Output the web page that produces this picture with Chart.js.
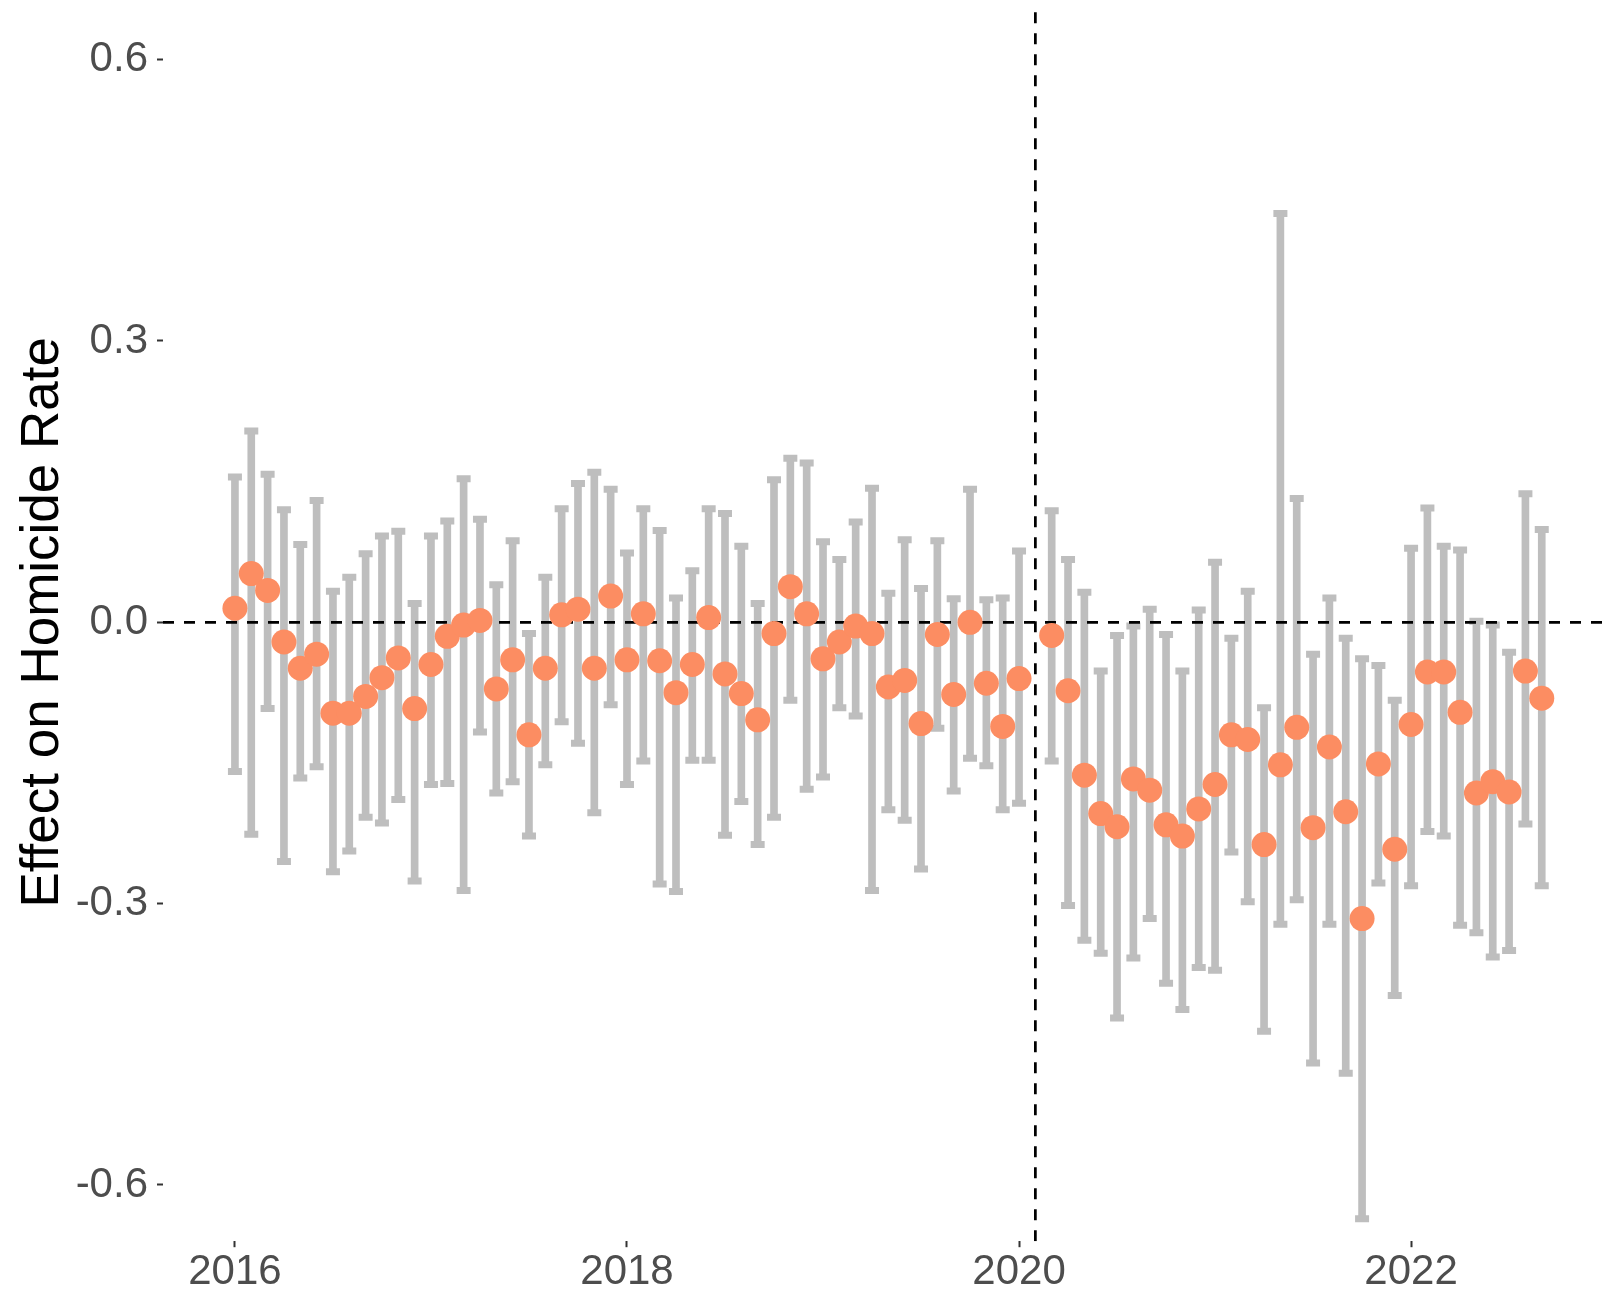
<!DOCTYPE html>
<html>
<head>
<meta charset="utf-8">
<title>Effect on Homicide Rate</title>
<script src="https://cdn.jsdelivr.net/npm/chart.js@4.4.1/dist/chart.umd.min.js"></script>
<style>
    html, body { margin: 0; padding: 0; background: #ffffff; }
    #wrap { width: 1602px; height: 1293px; }
</style>
</head>
<body>
<div id="wrap"><canvas id="myChart" width="1602" height="1293"></canvas></div>
<script>
// Months (first of month), Feb 2020 is missing in the original
const months = [
    '2016-01','2016-02','2016-03','2016-04','2016-05','2016-06','2016-07','2016-08','2016-09','2016-10','2016-11','2016-12',
    '2017-01','2017-02','2017-03','2017-04','2017-05','2017-06','2017-07','2017-08','2017-09','2017-10','2017-11','2017-12',
    '2018-01','2018-02','2018-03','2018-04','2018-05','2018-06','2018-07','2018-08','2018-09','2018-10','2018-11','2018-12',
    '2019-01','2019-02','2019-03','2019-04','2019-05','2019-06','2019-07','2019-08','2019-09','2019-10','2019-11','2019-12',
    '2020-01',
    '2020-03','2020-04','2020-05','2020-06','2020-07','2020-08','2020-09','2020-10','2020-11','2020-12',
    '2021-01','2021-02','2021-03','2021-04','2021-05','2021-06','2021-07','2021-08','2021-09','2021-10','2021-11','2021-12',
    '2022-01','2022-02','2022-03','2022-04','2022-05','2022-06','2022-07','2022-08','2022-09'
];

// Point estimates
const estimate = [
    0.015, 0.052, 0.034, -0.021, -0.049, -0.034, -0.097, -0.097, -0.079, -0.059, -0.038, -0.092,
    -0.045, -0.015, -0.003, 0.002, -0.071, -0.040, -0.120, -0.049, 0.008, 0.014, -0.049, 0.028,
    -0.040, 0.009, -0.041, -0.075, -0.045, 0.005, -0.055, -0.076, -0.104, -0.012, 0.038, 0.009,
    -0.039, -0.021, -0.004, -0.012, -0.069, -0.062, -0.108, -0.013, -0.077, 0.000, -0.065, -0.111,
    -0.060,
    -0.014, -0.073, -0.163, -0.204, -0.218, -0.167, -0.179, -0.216, -0.228, -0.199,
    -0.173, -0.120, -0.125, -0.237, -0.152, -0.112, -0.219, -0.133, -0.202, -0.316, -0.151, -0.242,
    -0.109, -0.053, -0.053, -0.096, -0.182, -0.170, -0.181, -0.052, -0.081
];

// Upper bound of the interval
const upper = [
    0.155, 0.204, 0.158, 0.120, 0.083, 0.130, 0.033, 0.048, 0.073, 0.092, 0.097, 0.020,
    0.092, 0.108, 0.153, 0.110, 0.040, 0.087, -0.012, 0.048, 0.121, 0.148, 0.160, 0.142,
    0.074, 0.121, 0.098, 0.026, 0.055, 0.121, 0.116, 0.081, 0.020, 0.152, 0.175, 0.170,
    0.086, 0.067, 0.107, 0.143, 0.031, 0.088, 0.036, 0.087, 0.025, 0.142, 0.024, 0.026,
    0.076,
    0.119, 0.067, 0.032, -0.052, -0.014, -0.004, 0.014, -0.013, -0.052, 0.013,
    0.064, -0.017, 0.033, -0.091, 0.436, 0.132, -0.034, 0.026, -0.017, -0.039, -0.046, -0.083,
    0.079, 0.122, 0.081, 0.077, 0.001, -0.003, -0.032, 0.137, 0.099
];

// Lower bound of the interval
const lower = [
    -0.159, -0.226, -0.092, -0.255, -0.166, -0.154, -0.266, -0.244, -0.208, -0.214, -0.189, -0.276,
    -0.173, -0.172, -0.286, -0.117, -0.182, -0.170, -0.228, -0.152, -0.106, -0.129, -0.203, -0.088,
    -0.173, -0.148, -0.279, -0.287, -0.147, -0.147, -0.227, -0.191, -0.237, -0.208, -0.083, -0.178,
    -0.165, -0.091, -0.100, -0.286, -0.200, -0.211, -0.263, -0.113, -0.180, -0.145, -0.153, -0.200,
    -0.193,
    -0.148, -0.302, -0.339, -0.353, -0.422, -0.358, -0.316, -0.385, -0.413, -0.368,
    -0.371, -0.245, -0.298, -0.436, -0.322, -0.296, -0.470, -0.322, -0.481, -0.636, -0.278, -0.398,
    -0.281, -0.223, -0.228, -0.323, -0.331, -0.357, -0.350, -0.215, -0.281
];

// Axis ticks
const xTicks = [2016, 2018, 2020, 2022];
const xTickLabels = ['2016', '2018', '2020', '2022'];
const yTicks = [-0.6, -0.3, 0.0, 0.3, 0.6];
const yTickLabels = ['-0.6', '-0.3', '0.0', '0.3', '0.6'];

// Reference lines: cutoff month (Feb 2020) and zero effect
const cutoffMonth = '2020-02';
const zeroLine = 0;

// Axis limits
const xMin = 2015.633;
const xMax = 2022.974;
const yMin = -0.66;
const yMax = 0.66;

// Convert 'YYYY-MM' to decimal year
function toYear(m) {
    const parts = m.split('-');
    return parseInt(parts[0]) + (parseInt(parts[1]) - 1) / 12;
}

const xs = months.map(toYear);
const cutoffX = toYear(cutoffMonth);

const FONT = "'Liberation Sans', Arial, Helvetica, sans-serif";
const POINT_COLOR = '#FC8D62';
const BAR_COLOR = '#BEBEBE';

// No extra label padding: the plot area is set by the fixed axis sizes
function clearPadding(scale) {
    scale.paddingLeft = 0;
    scale.paddingRight = 0;
    scale.paddingTop = 0;
    scale.paddingBottom = 0;
}

function createChart() {
    const ctx = document.getElementById('myChart').getContext('2d');

    const points = xs.map((x, i) => ({ x: x, y: estimate[i] }));
    const bars = xs.map((x, i) => ({ x: x, y: [lower[i], upper[i]] }));
    const capsTop = xs.map((x, i) => ({ x: x, y: upper[i] }));
    const capsBottom = xs.map((x, i) => ({ x: x, y: lower[i] }));

    new Chart(ctx, {
        type: 'scatter',
        data: {
            datasets: [
                {
                    // estimates
                    type: 'scatter',
                    data: points,
                    backgroundColor: POINT_COLOR,
                    borderWidth: 0,
                    pointRadius: 12.5,
                    order: 0
                },
                {
                    // horizontal zero line
                    type: 'line',
                    data: [{ x: xMin, y: zeroLine }, { x: xMax, y: zeroLine }],
                    borderColor: '#000000',
                    borderWidth: 2.75,
                    borderDash: [11, 10],
                    pointRadius: 0,
                    fill: false,
                    order: 1
                },
                {
                    // vertical cutoff line (drawn from the bottom)
                    type: 'line',
                    data: [{ x: cutoffX, y: yMin }, { x: cutoffX, y: yMax }],
                    borderColor: '#000000',
                    borderWidth: 2.75,
                    borderDash: [11, 10],
                    pointRadius: 0,
                    fill: false,
                    order: 1
                },
                {
                    // error bar caps
                    type: 'scatter',
                    data: capsTop.concat(capsBottom),
                    pointStyle: 'line',
                    pointRadius: 7,
                    borderColor: BAR_COLOR,
                    borderWidth: 7,
                    order: 2
                },
                {
                    // error bar stems
                    type: 'bar',
                    data: bars,
                    backgroundColor: BAR_COLOR,
                    borderWidth: 0,
                    barThickness: 7,
                    grouped: false,
                    order: 3
                }
            ]
        },
        options: {
            responsive: false,
            animation: false,
            devicePixelRatio: 1,
            layout: {
                autoPadding: false,
                padding: { top: 3.4, right: 0, bottom: 0, left: 0 }
            },
            plugins: {
                legend: { display: false },
                tooltip: { enabled: false }
            },
            scales: {
                x: {
                    type: 'linear',
                    min: xMin,
                    max: xMax,
                    offset: false,
                    border: { display: false },
                    grid: {
                        offset: false,
                        drawOnChartArea: false,
                        drawTicks: true,
                        tickLength: 6,
                        tickWidth: 2,
                        tickColor: '#333333'
                    },
                    afterBuildTicks: (scale) => {
                        scale.ticks = xTicks.map(v => ({ value: v }));
                    },
                    afterFit: (scale) => {
                        scale.height = 51.8;
                        clearPadding(scale);
                    },
                    ticks: {
                        padding: 0,
                        color: '#4D4D4D',
                        font: { family: FONT, size: 42 },
                        maxRotation: 0,
                        autoSkip: false,
                        callback: (value, index) => xTickLabels[index]
                    }
                },
                y: {
                    type: 'linear',
                    min: yMin,
                    max: yMax,
                    border: { display: false },
                    grid: {
                        offset: false,
                        drawOnChartArea: false,
                        drawTicks: true,
                        tickLength: 6,
                        tickWidth: 2,
                        tickColor: '#333333'
                    },
                    afterBuildTicks: (scale) => {
                        scale.ticks = yTicks.map(v => ({ value: v }));
                    },
                    afterFit: (scale) => {
                        scale.width = 163;
                        clearPadding(scale);
                    },
                    ticks: {
                        padding: 9,
                        color: '#4D4D4D',
                        font: { family: FONT, size: 42 },
                        autoSkip: false,
                        callback: (value, index) => yTickLabels[index]
                    },
                    title: {
                        display: true,
                        text: 'Effect on Homicide Rate',
                        color: '#000000',
                        font: { family: FONT, size: 53 },
                        padding: { top: 12, bottom: 0 }
                    }
                }
            }
        }
    });
}

document.addEventListener('DOMContentLoaded', createChart);
</script>
</body>
</html>
